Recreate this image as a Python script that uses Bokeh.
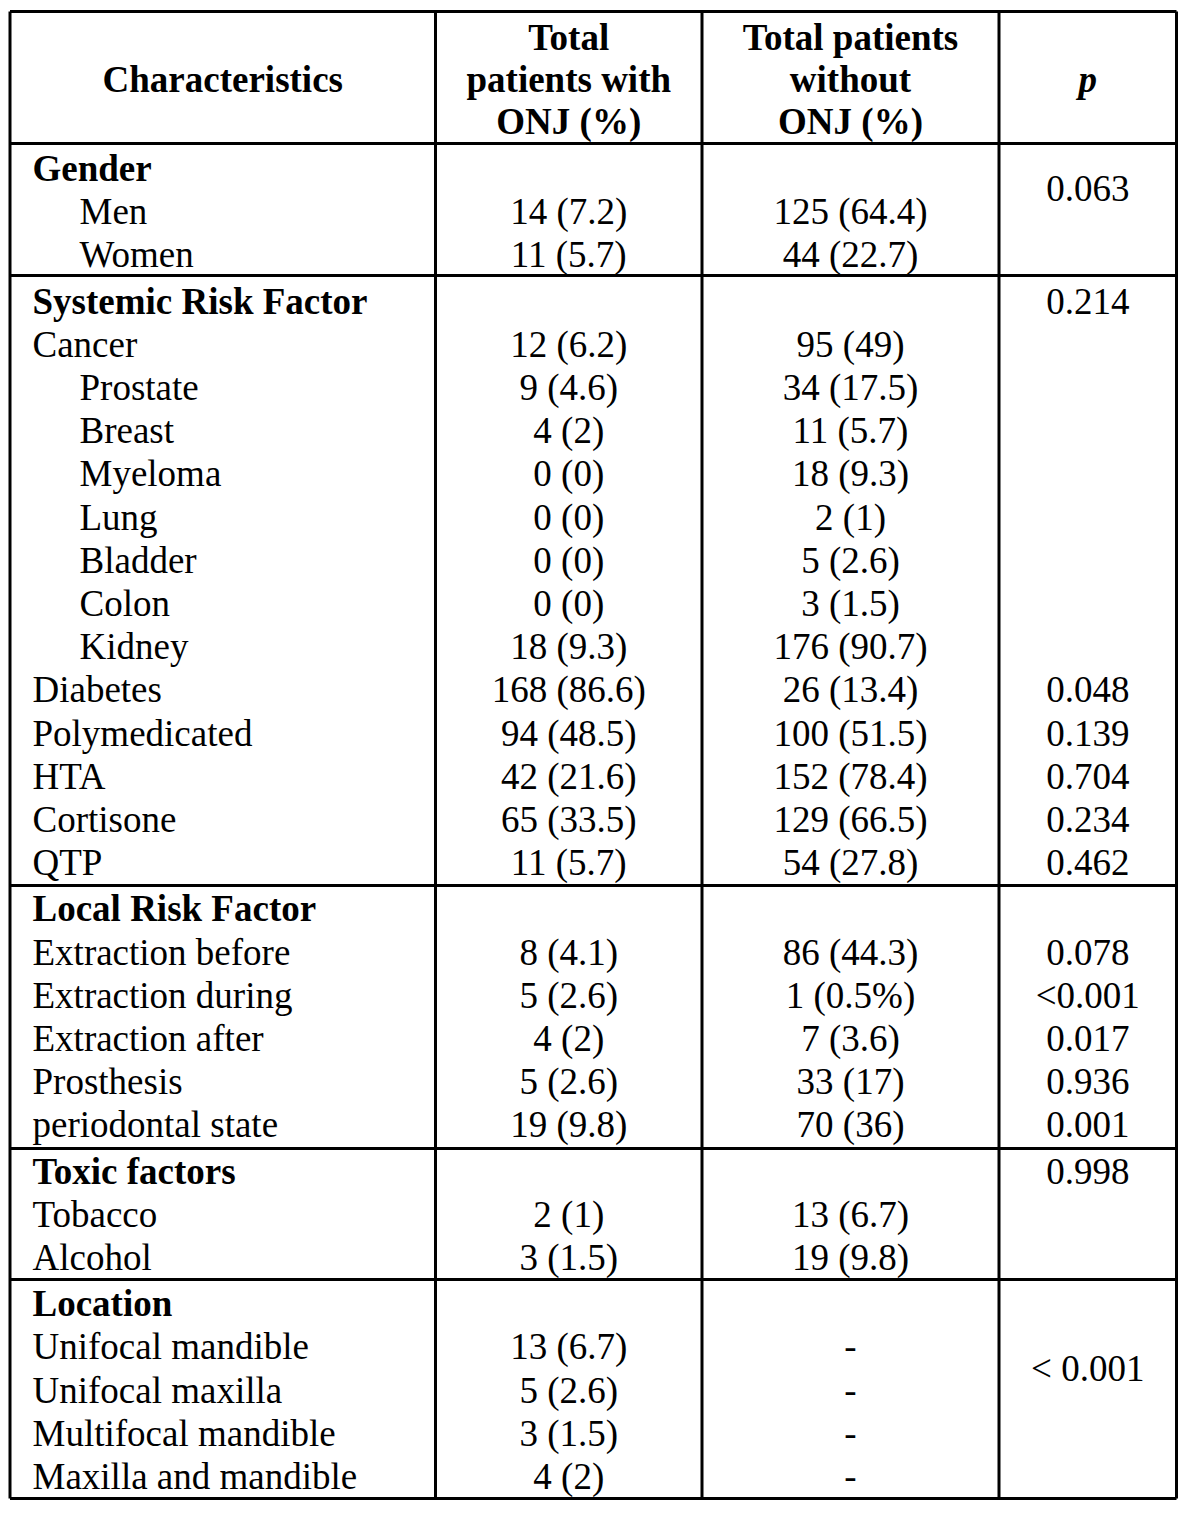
from bokeh.plotting import figure
from bokeh.models import Range1d, ColumnDataSource
from bokeh.core.properties import value
from bokeh.embed import file_html
from bokeh.resources import INLINE

# ---------------- data ----------------
header_char = "Characteristics"
header_with = ["Total", "patients with", "ONJ (%)"]
header_without = ["Total patients", "without", "ONJ (%)"]
header_p = "p"

categories = ["Gender", "Men", "Women", "Systemic Risk Factor", "Cancer", "Prostate",
              "Breast", "Myeloma", "Lung", "Bladder", "Colon", "Kidney", "Diabetes",
              "Polymedicated", "HTA", "Cortisone", "QTP", "Local Risk Factor",
              "Extraction before", "Extraction during", "Extraction after", "Prosthesis",
              "periodontal state", "Toxic factors", "Tobacco", "Alcohol", "Location",
              "Unifocal mandible", "Unifocal maxilla", "Multifocal mandible",
              "Maxilla and mandible"]
with_onj = ["", "14 (7.2)", "11 (5.7)", "", "12 (6.2)", "9 (4.6)", "4 (2)", "0 (0)",
            "0 (0)", "0 (0)", "0 (0)", "18 (9.3)", "168 (86.6)", "94 (48.5)",
            "42 (21.6)", "65 (33.5)", "11 (5.7)", "", "8 (4.1)", "5 (2.6)", "4 (2)",
            "5 (2.6)", "19 (9.8)", "", "2 (1)", "3 (1.5)", "", "13 (6.7)", "5 (2.6)",
            "3 (1.5)", "4 (2)"]
without_onj = ["", "125 (64.4)", "44 (22.7)", "", "95 (49)", "34 (17.5)", "11 (5.7)",
               "18 (9.3)", "2 (1)", "5 (2.6)", "3 (1.5)", "176 (90.7)", "26 (13.4)",
               "100 (51.5)", "152 (78.4)", "129 (66.5)", "54 (27.8)", "", "86 (44.3)",
               "1 (0.5%)", "7 (3.6)", "33 (17)", "70 (36)", "", "13 (6.7)", "19 (9.8)",
               "", "-", "-", "-", "-"]
p_values = ["0.063", "", "", "0.214", "", "", "", "", "", "", "", "", "0.048", "0.139",
            "0.704", "0.234", "0.462", "", "0.078", "<0.001", "0.017", "0.936", "0.001",
            "0.998", "", "", "< 0.001", "", "", "", ""]
section_heads = ["Gender", "Systemic Risk Factor", "Local Risk Factor", "Toxic factors", "Location"]
indented = ["Men", "Women", "Prostate", "Breast", "Myeloma", "Lung", "Bladder", "Colon", "Kidney"]

# ---------------- layout ----------------
FONT = value("Liberation Serif")
FS = value("37px")
PITCH = 43.2
GAP = 3.0
Y0 = 168.0
# p-value rows that sit between two rows (fractional offset in rows)
p_offset = {0: 0.47, 26: 1.5}

X_L, X_C1, X_C2, X_C3, X_R = 9.5, 435, 701.5, 998.5, 1176
COL_CHAR_X = 32
COL_IND_X = 79
col2_x = (X_C1 + X_C2) / 2
col3_x = (X_C2 + X_C3) / 2
col4_x = (X_C3 + X_R) / 2

W, H = 1190, 1510
p = figure(width=W, height=H, x_range=Range1d(0, W), y_range=Range1d(H, 0),
           output_backend="svg", toolbar_location=None, min_border=0)
p.axis.visible = False
p.grid.visible = False
p.outline_line_color = None
p.background_fill_color = "white"
p.border_fill_color = "white"

# row y positions
sec = -1
row_y = []
for i, c in enumerate(categories):
    if c in section_heads:
        sec += 1
    row_y.append(Y0 + i * PITCH + sec * GAP)

# ---------- lines ----------
h_lines = [11, 143, 275, 885, 1148, 1279, 1498]
p.segment(x0=[X_L] * len(h_lines), x1=[X_R] * len(h_lines), y0=h_lines, y1=h_lines,
          line_color="black", line_width=3)
v_lines = [X_L, X_C1, X_C2, X_C3, X_R]
p.segment(x0=v_lines, x1=v_lines, y0=[11] * 5, y1=[1498] * 5, line_color="black", line_width=3)

# ---------- header ----------
hdr_y = [37, 79, 121]
hx = [(X_L + X_C1) / 2] + [col2_x] * 3 + [col3_x] * 3
hy = [79] + hdr_y + hdr_y
ht = [header_char] + header_with + header_without
p.text(x=hx, y=hy, text=ht, text_font=FONT, text_font_size=FS, text_font_style="bold",
       text_align="center", text_baseline="middle", text_color="black")
p.text(x=[col4_x], y=[79], text=[header_p], text_font=FONT, text_font_size=FS,
       text_font_style="bold italic", text_align="center", text_baseline="middle",
       text_color="black")

# ---------- body ----------
bold_src = ColumnDataSource(dict(
    x=[COL_CHAR_X for c in categories if c in section_heads],
    y=[row_y[i] for i, c in enumerate(categories) if c in section_heads],
    t=[c for c in categories if c in section_heads]))
reg_src = ColumnDataSource(dict(
    x=[COL_IND_X if c in indented else COL_CHAR_X for c in categories if c not in section_heads],
    y=[row_y[i] for i, c in enumerate(categories) if c not in section_heads],
    t=[c for c in categories if c not in section_heads]))
p.text(x="x", y="y", text="t", source=bold_src, text_font=FONT, text_font_size=FS,
       text_font_style="bold", text_align="left", text_baseline="middle", text_color="black")
p.text(x="x", y="y", text="t", source=reg_src, text_font=FONT, text_font_size=FS,
       text_align="left", text_baseline="middle", text_color="black")

p.text(x=[col2_x] * len(with_onj), y=row_y, text=with_onj, text_font=FONT, text_font_size=FS,
       text_align="center", text_baseline="middle", text_color="black")
p.text(x=[col3_x] * len(without_onj), y=row_y, text=without_onj, text_font=FONT,
       text_font_size=FS, text_align="center", text_baseline="middle", text_color="black")

py = [row_y[i] + p_offset.get(i, 0) * PITCH for i in range(len(p_values))]
p.text(x=[col4_x] * len(p_values), y=py, text=p_values, text_font=FONT, text_font_size=FS,
       text_align="center", text_baseline="middle", text_color="black")

open("out.html", "w").write(file_html(p, INLINE))
